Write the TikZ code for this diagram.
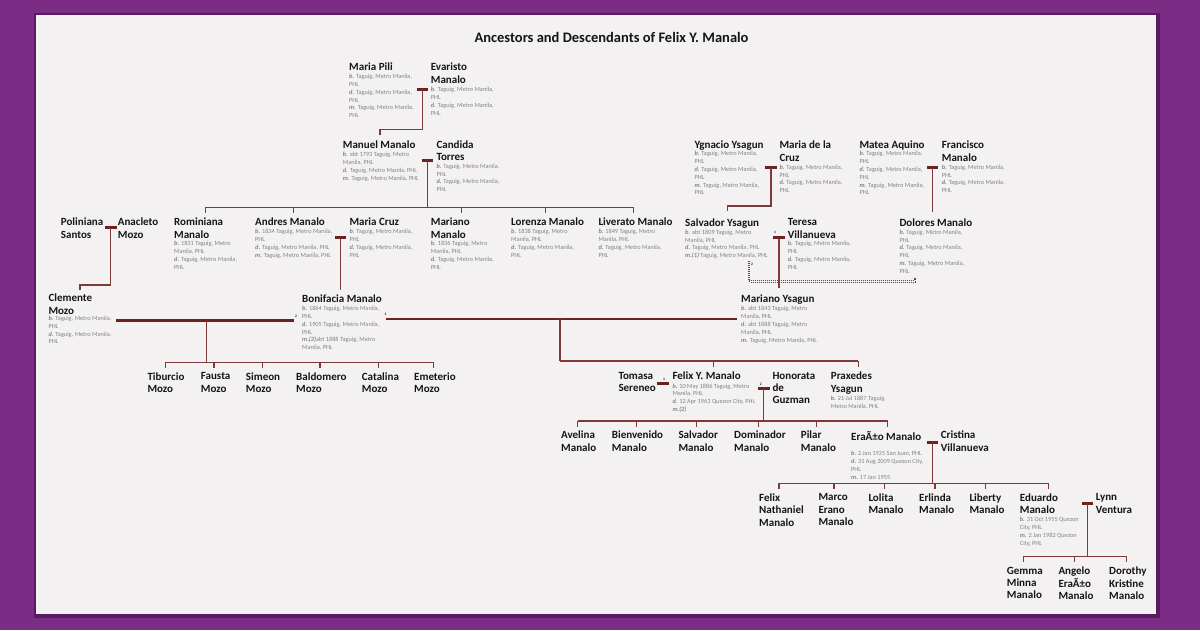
\documentclass[tikz,border=0pt]{standalone}
\usepackage{fontspec}
\setmainfont{Carlito}
\definecolor{bgpurple}{HTML}{7B2D86}
\definecolor{shadowc}{HTML}{4A1452}
\definecolor{panelc}{HTML}{F3F1F1}
\definecolor{lncol}{HTML}{7E3A36}
\definecolor{barcol}{HTML}{6A2222}
\definecolor{namecol}{HTML}{151515}
\definecolor{detcol}{HTML}{858585}
\newcommand\nmfont{\fontsize{11}{12.4}\selectfont\bfseries}
\newcommand\dtfont{\fontsize{6.3}{7.8}\selectfont}
\newcommand\xb{{\bfseries\itshape b.} }
\newcommand\xd{{\bfseries\itshape d.} }
\newcommand\xm{{\bfseries\itshape m.} }
\newcommand\xmm[1]{{\bfseries\itshape m.(#1)}}
\tikzset{
  nm/.style={anchor=north west, inner sep=0pt, align=left, font=\nmfont, text=namecol},
  dt/.style={anchor=north west, inner sep=0pt, align=left, font=\dtfont, text=detcol},
  ln/.style={draw=lncol, line width=1.3pt},
  bar/.style={draw=barcol, line width=3pt},
  thickbar/.style={draw=barcol, line width=2.6pt},
  dotl/.style={draw=lncol, line width=0.9pt, dash pattern=on 1pt off 1pt},
  tag/.style={inner sep=0pt, font=\fontsize{3.6}{4}\selectfont\bfseries, text=namecol},
  ttl/.style={inner sep=0pt, font=\fontsize{14.5}{16}\selectfont\bfseries, text=namecol}
}
\begin{document}
\begin{tikzpicture}[x=1pt,y=-1pt]
\useasboundingbox (0,0) rectangle (1200,630);
\fill[bgpurple] (0,0) rectangle (1200,630);
\fill[shadowc, opacity=0.7] (34,13) rectangle (1159.5,617.5);
\fill[panelc] (36,15) rectangle (1156,614);

\node[ttl] (title) at (611.5,37.3) {Ancestors and Descendants of Felix Y. Manalo};

% ---------------- people ----------------
\node[nm] (mpili) at (349,62.7) {Maria Pili};
\node[dt] (mpilid) at (349,74) {\xb Taguig, Metro Manila,\\PHL\\\xd Taguig, Metro Manila,\\PHL\\\xm Taguig, Metro Manila,\\PHL};
\node[nm] (evaristo) at (430.7,62.7) {Evaristo\\Manalo};
\node[dt] (evaristod) at (430.7,87) {\xb Taguig, Metro Manila,\\PHL\\\xd Taguig, Metro Manila,\\PHL};

\node[nm] (manuel) at (342.7,140.3) {Manuel Manalo};
\node[dt] (manueld) at (342.7,152) {\xb abt 1793 Taguig, Metro\\Manila, PHL\\\xd Taguig, Metro Manila, PHL\\\xm Taguig, Metro Manila, PHL};
\node[nm] (candida) at (436.3,140.3) {Candida\\Torres};
\node[dt] (candidad) at (436.3,163.7) {\xb Taguig, Metro Manila,\\PHL\\\xd Taguig, Metro Manila,\\PHL};

\node[nm] (poliniana) at (60.7,217.7) {Poliniana\\Santos};
\node[nm] (anacleto) at (117.7,217.7) {Anacleto\\Mozo};
\node[nm] (rominiana) at (174,217.7) {Rominiana\\Manalo};
\node[dt] (rominianad) at (174,241.3) {\xb 1831 Taguig, Metro\\Manila, PHL\\\xd Taguig, Metro Manila,\\PHL};
\node[nm] (andres) at (255,217.7) {Andres Manalo};
\node[dt] (andresd) at (255,229.3) {\xb 1834 Taguig, Metro Manila,\\PHL\\\xd Taguig, Metro Manila, PHL\\\xm Taguig, Metro Manila, PHL};
\node[nm] (mcruz) at (349.3,217.7) {Maria Cruz};
\node[dt] (mcruzd) at (349.3,229) {\xb Taguig, Metro Manila,\\PHL\\\xd Taguig, Metro Manila,\\PHL};
\node[nm] (marianom) at (430.7,217.7) {Mariano\\Manalo};
\node[dt] (marianomd) at (430.7,241.3) {\xb 1836 Taguig, Metro\\Manila, PHL\\\xd Taguig, Metro Manila,\\PHL};
\node[nm] (lorenza) at (511,217.7) {Lorenza Manalo};
\node[dt] (lorenzad) at (511,229) {\xb 1838 Taguig, Metro\\Manila, PHL\\\xd Taguig, Metro Manila,\\PHL};
\node[nm] (liverato) at (598.3,217.7) {Liverato Manalo};
\node[dt] (liveratod) at (598.3,229) {\xb 1849 Taguig, Metro\\Manila, PHL\\\xd Taguig, Metro Manila,\\PHL};

\node[nm] (ygnacio) at (694.3,140.7) {Ygnacio Ysagun};
\node[dt] (ygnaciod) at (694.3,151.3) {\xb Taguig, Metro Manila,\\PHL\\\xd Taguig, Metro Manila,\\PHL\\\xm Taguig, Metro Manila,\\PHL};
\node[nm] (mdlcruz) at (779.3,140.7) {Maria de la\\Cruz};
\node[dt] (mdlcruzd) at (779.3,164.7) {\xb Taguig, Metro Manila,\\PHL\\\xd Taguig, Metro Manila,\\PHL};
\node[nm] (matea) at (859.3,140.7) {Matea Aquino};
\node[dt] (mtead) at (859.3,151.3) {\xb Taguig, Metro Manila,\\PHL\\\xd Taguig, Metro Manila,\\PHL\\\xm Taguig, Metro Manila,\\PHL};
\node[nm] (francisco) at (941.7,140.7) {Francisco\\Manalo};
\node[dt] (franciscod) at (941.7,164.7) {\xb Taguig, Metro Manila,\\PHL\\\xd Taguig, Metro Manila,\\PHL};

\node[nm] (salvadory) at (685,218.3) {Salvador Ysagun};
\node[dt] (salvadoryd) at (685,229.7) {\xb abt 1809 Taguig, Metro\\Manila, PHL\\\xd Taguig, Metro Manila, PHL\\\xmm{1} Taguig, Metro Manila, PHL};
\node[nm] (teresa) at (787.7,218.3) {Teresa\\Villanueva};
\node[dt] (teresad) at (787.7,241.3) {\xb Taguig, Metro Manila,\\PHL\\\xd Taguig, Metro Manila,\\PHL};
\node[nm] (dolores) at (899.3,218.3) {Dolores Manalo};
\node[dt] (doloresd) at (899.3,229.7) {\xb Taguig, Metro Manila,\\PHL\\\xd Taguig, Metro Manila,\\PHL\\\xm Taguig, Metro Manila,\\PHL};

\node[nm] (clemente) at (48.3,293.8) {Clemente\\Mozo};
\node[dt] (clemented) at (48.3,315.8) {\xb Taguig, Metro Manila,\\PHL\\\xd Taguig, Metro Manila,\\PHL};
\node[nm] (bonifacia) at (302,294.3) {Bonifacia Manalo};
\node[dt] (bonifaciad) at (302,306) {\xb 1864 Taguig, Metro Manila,\\PHL\\\xd 1905 Taguig, Metro Manila,\\PHL\\\xmm{2}abt 1888 Taguig, Metro\\Manila, PHL};
\node[nm] (marianoy) at (741,294.3) {Mariano Ysagun};
\node[dt] (marianoyd) at (741,306.3) {\xb abt 1843 Taguig, Metro\\Manila, PHL\\\xd abt 1888 Taguig, Metro\\Manila, PHL\\\xm Taguig, Metro Manila, PHL};

\node[nm] (tiburcio) at (147.3,372.3) {Tiburcio\\Mozo};
\node[nm] (fausta) at (200.7,372.3) {Fausta\\Mozo};
\node[nm] (simeon) at (245.7,372.3) {Simeon\\Mozo};
\node[nm] (baldomero) at (296,372.3) {Baldomero\\Mozo};
\node[nm] (catalina) at (361.7,372.3) {Catalina\\Mozo};
\node[nm] (emeterio) at (414,372.3) {Emeterio\\Mozo};

\node[nm] (tomasa) at (618.3,371.7) {Tomasa\\Sereneo};
\node[nm] (felix) at (672.3,371.7) {Felix Y. Manalo};
\node[dt] (felixd) at (672.3,383.5) {\xb 10 May 1886 Taguig, Metro\\Manila, PHL\\\xd 12 Apr 1963 Quezon City, PHL\\\xmm{2}};
\node[nm] (honorata) at (772.3,371.7) {Honorata\\de\\Guzman};
\node[nm] (praxedes) at (830.7,371.7) {Praxedes\\Ysagun};
\node[dt] (praxedesd) at (830.7,396) {\xb 21 Jul 1887 Taguig,\\Metro Manila, PHL};

\node[nm] (avelina) at (561,431) {Avelina\\Manalo};
\node[nm] (bienvenido) at (611.7,431) {Bienvenido\\Manalo};
\node[nm] (salvadorm) at (678.3,431) {Salvador\\Manalo};
\node[nm] (dominador) at (734,431) {Dominador\\Manalo};
\node[nm] (pilar) at (800.7,431) {Pilar\\Manalo};
\node[nm] (erano) at (851,431) {EraÃ±o Manalo};
\node[dt] (eranod) at (851,451) {\xb 2 Jan 1925 San Juan, PHL\\\xd 31 Aug 2009 Quezon City,\\PHL\\\xm 17 Jan 1955};
\node[nm] (cristina) at (940.7,431) {Cristina\\Villanueva};

\node[nm] (felixn) at (759,493.3) {Felix\\Nathaniel\\Manalo};
\node[nm] (marco) at (818.3,493.3) {Marco\\Erano\\Manalo};
\node[nm] (lolita) at (868.3,493.3) {Lolita\\Manalo};
\node[nm] (erlinda) at (919,493.3) {Erlinda\\Manalo};
\node[nm] (liberty) at (969.3,493.3) {Liberty\\Manalo};
\node[nm] (eduardo) at (1019.7,493.3) {Eduardo\\Manalo};
\node[dt] (eduardod) at (1019.7,517) {\xb 31 Oct 1955 Quezon\\City, PHL\\\xm 2 Jan 1982 Quezon\\City, PHL};
\node[nm] (lynn) at (1095.7,493.3) {Lynn\\Ventura};

\node[nm] (gemma) at (1006.7,566.7) {Gemma\\Minna\\Manalo};
\node[nm] (angelo) at (1058.3,566.7) {Angelo\\EraÃ±o\\Manalo};
\node[nm] (dorothy) at (1109,566.7) {Dorothy\\Kristine\\Manalo};

% ---------------- marriage points ----------------
\coordinate (mA) at (422.3,89);
\coordinate (mB) at (427.7,160.3);
\coordinate (mD) at (110.8,227.7);
\coordinate (mE) at (340.5,237.7);
\coordinate (mH) at (771,167.7);
\coordinate (mI) at (932.5,167.7);
\coordinate (mJ) at (779,237.7);
\coordinate (mL) at (662.8,383.3);
\coordinate (mM) at (763.8,388.3);
\coordinate (mN) at (932.5,442.3);
\coordinate (mO) at (1087.5,503.3);
\foreach \m in {mA,mB,mD,mE,mH,mI,mJ,mL,mM,mN,mO}
  \draw[bar] ([xshift=-5.7pt]\m) -- ([xshift=5.7pt]\m);

% ancestors lines
\coordinate (tManuel) at (380,135);
\draw[ln] (mA) -- ++(0,40.3) -| (tManuel);
\coordinate (tClem) at (80,289.5);
\draw[ln] (mD) -- ++(0,57.3) -| (tClem);
\draw[ln] (mE) -- (340.5,289.5);
\coordinate (tSal) at (727.7,211);
\draw[ln] (mH) -- ++(0,38.3) -| (tSal);
\draw[ln] (mI) -- (932.5,211.7);
\draw[ln] (mJ) -- (779,287.5);

% Manuel + Candida children
\coordinate (k1a) at (205.7,207.3);
\coordinate (k1e) at (633.3,207.3);
\draw[ln] (mB) -- (mB |- k1a);
\draw[ln] (k1a) -- (k1e);
\foreach \x in {205.7,293.3,461.7,545.7,633.3} \draw[ln] (\x,207.3) -- ++(0,5.5);

% Clemente + Bonifacia
\coordinate (cbL) at (116,320.7);
\coordinate (cbR) at (294,320.7);
\draw[thickbar] (cbL) -- (cbR);
\node[tag] (tg1) at (296,316.5) {2};
\coordinate (k2a) at (165.7,362.3);
\coordinate (k2e) at (433.3,362.3);
\draw[ln] (206.7,320.7) -- (206.7,362.3);
\draw[ln] (k2a) -- (k2e);
\foreach \x in {165.7,214,262.3,320,378.3,433.3} \draw[ln] (\x,362.3) -- ++(0,5.5);

% Bonifacia + Mariano Ysagun
\coordinate (bmL) at (386,319);
\coordinate (bmR) at (737,319);
\draw[thickbar] (bmL) -- (bmR);
\node[tag] (tg2) at (385.5,314.3) {1};
\coordinate (k3a) at (560,361);
\coordinate (k3e) at (858.3,361);
\draw[ln] (560,319) -- (k3a);
\draw[ln] (k3a) -- (k3e);
\foreach \x in {713.3,858.3} \draw[ln] (\x,361) -- ++(0,5.5);

% Salvador second marriage (double dotted)
\coordinate (sdA) at (748.2,261);
\coordinate (sdC) at (914.2,280.7);
\coordinate (sdB) at (914.2,277.5);
\coordinate (sdA2) at (749.8,261);
\coordinate (sdC2) at (915.8,282.3);
\coordinate (sdB2) at (915.8,277.5);
\draw[dotl] (sdA) |- (sdC) -- (sdB);
\draw[dotl] (sdA2) |- (sdC2) -- (sdB2);
\node[tag] (tg3) at (752,264.5) {2};
\node[tag] (tg4) at (775,232.5) {1};

% Felix marriages
\node[tag] (tg5) at (664,379) {1};
\node[tag] (tg6) at (760.7,384) {2};
\coordinate (k4a) at (577.7,421);
\coordinate (k4e) at (887.7,421);
\draw[ln] (mM) -- (mM |- k4a);
\draw[ln] (k4a) -- (k4e);
\foreach \x in {577.7,636.7,696.7,758.3,816.7,887.7} \draw[ln] (\x,421) -- ++(0,5.5);

% Erano + Cristina
\coordinate (k5a) at (779,483.3);
\coordinate (k5e) at (1048.7,483.3);
\draw[ln] (mN) -- (mN |- k5a);
\draw[ln] (k5a) -- (k5e);
\foreach \x in {779,834,884.3,935,985.7,1048.7} \draw[ln] (\x,483.3) -- ++(0,5.5);

% Eduardo + Lynn
\coordinate (k6a) at (1023.3,556.7);
\coordinate (k6e) at (1126.7,556.7);
\draw[ln] (mO) -- (mO |- k6a);
\draw[ln] (k6a) -- (k6e);
\foreach \x in {1023.3,1074.3,1126.7} \draw[ln] (\x,556.7) -- ++(0,5.5);
\end{tikzpicture}
\end{document}
